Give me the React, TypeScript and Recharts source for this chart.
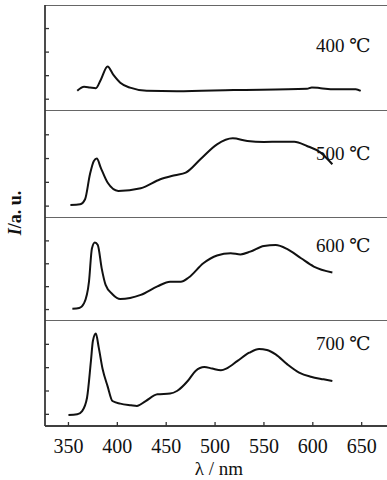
import React from 'react';
import { LineChart, Line, XAxis, YAxis, ReferenceLine } from 'recharts';

// wavelength (nm) and intensity (a.u.)
const wl400 = [359, 366, 372, 378, 383, 390, 396, 403, 413, 430, 461, 519, 594, 599, 608, 622, 644, 649];
const i400 = [0.86, 1.03, 1.0, 0.97, 1.32, 1.89, 1.53, 1.2, 0.99, 0.86, 0.84, 0.89, 0.94, 1.0, 0.97, 0.92, 0.92, 0.85];

const wl500 = [352, 362, 367, 372, 376, 379, 383, 390, 401, 424, 444, 459, 470, 485, 502, 518, 533, 550, 567, 581, 594, 608, 620];
const i500 = [0.55, 0.58, 0.79, 1.84, 2.4, 2.5, 2.12, 1.49, 1.14, 1.25, 1.63, 1.8, 1.91, 2.47, 3.1, 3.35, 3.24, 3.2, 3.21, 3.21, 3.03, 2.75, 2.26];

const wl600 = [354, 361, 366, 371, 374, 377, 380, 384, 388, 395, 403, 424, 441, 454, 465, 473, 488, 502, 516, 526, 536, 550, 562, 574, 588, 601, 620];
const i600 = [0.54, 0.57, 0.78, 1.72, 3.17, 3.43, 3.32, 2.3, 1.58, 1.17, 0.96, 1.14, 1.51, 1.72, 1.72, 1.9, 2.52, 2.86, 2.96, 2.91, 3.03, 3.28, 3.32, 3.14, 2.74, 2.38, 2.12];

const wl700 = [350, 359, 364, 369, 373, 375, 378, 381, 385, 390, 395, 403, 414, 420, 429, 441, 454, 461, 472, 480, 489, 497, 506, 512, 523, 535, 545, 553, 562, 574, 586, 598, 611, 620];
const i700 = [0.47, 0.5, 0.64, 1.21, 2.79, 3.64, 3.96, 3.36, 2.43, 1.71, 1.07, 0.96, 0.89, 0.86, 1.07, 1.36, 1.39, 1.5, 1.93, 2.36, 2.53, 2.46, 2.39, 2.47, 2.79, 3.14, 3.3, 3.26, 3.07, 2.64, 2.29, 2.11, 2.0, 1.93];

const xTicks = [350, 400, 450, 500, 550, 600, 650];
const yTicks = [0.5, 1.5, 2.5, 3.5];

const panels = [
  { label: '400 ℃', wl: wl400, vals: i400, top: 5, h: 106, labelY: 34 },
  { label: '500 ℃', wl: wl500, vals: i500, top: 111, h: 107, labelY: 142 },
  { label: '600 ℃', wl: wl600, vals: i600, top: 218, h: 103, labelY: 234 },
  { label: '700 ℃', wl: wl700, vals: i700, top: 321, h: 105, labelY: 332 },
];

const AXIS = '#333';
const FONT = '"Liberation Serif", "DejaVu Serif", serif';
const W = 391;

const Panel = ({ p, last, first }: any) => {
  const data = p.wl.map((x: number, i: number) => ({ nm: x, v: p.vals[i] }));
  const extra = last ? 55 : 0;
  return (
    <div style={{ position: 'absolute', left: 0, top: p.top, width: W, height: p.h + extra }}>
      <LineChart width={W} height={p.h + extra} data={data} margin={{ top: 0, right: 0, left: 44, bottom: 0 }}>
        <XAxis
          dataKey="nm"
          type="number"
          domain={[326, 680]}
          allowDataOverflow
          ticks={xTicks}
          hide={!last}
          height={55}
          tick={{ fontSize: 20, fill: '#111', fontFamily: FONT }}
          tickLine={{ stroke: AXIS }}
          tickSize={-4}
          tickMargin={17}
          stroke={AXIS}
          strokeWidth={1.3}
        />
        <YAxis
          type="number"
          domain={[0, 4.5]}
          ticks={yTicks}
          width={1}
          tickSize={-4}
          tickMargin={0}
          tickFormatter={() => ''}
          stroke={AXIS}
          strokeWidth={1.3}
        />
        <ReferenceLine y={0} stroke={AXIS} strokeWidth={1.3} ifOverflow="visible" />
        {first && <ReferenceLine y={4.5} stroke={AXIS} strokeWidth={1.3} ifOverflow="visible" />}
        <ReferenceLine x={326} stroke={AXIS} strokeWidth={1.3} ifOverflow="visible" />
        <Line
          type="monotone"
          dataKey="v"
          stroke="#111"
          strokeWidth={2}
          dot={false}
          isAnimationActive={false}
        />
      </LineChart>
    </div>
  );
};

export default function App() {
  return (
    <div
      style={{
        position: 'absolute',
        left: 0,
        top: 0,
        width: 387,
        height: 480,
        overflow: 'hidden',
        background: '#fff',
        fontFamily: FONT,
      }}
    >
      {panels.map((p, i) => (
        <Panel key={p.label} p={p} first={i === 0} last={i === panels.length - 1} />
      ))}
      {panels.map((p) => (
        <div
          key={p.label + 't'}
          style={{ position: 'absolute', left: 316, top: p.labelY, fontSize: 19, color: '#111', whiteSpace: 'nowrap' }}
        >
          {p.label}
        </div>
      ))}
      <div
        style={{
          position: 'absolute',
          left: 219,
          top: 469,
          transform: 'translate(-50%, -50%)',
          fontSize: 19,
          color: '#111',
          whiteSpace: 'nowrap',
        }}
      >
        λ / nm
      </div>
      <div
        style={{
          position: 'absolute',
          left: 15,
          top: 213,
          transform: 'translate(-50%, -50%) rotate(-90deg)',
          fontSize: 18,
          fontWeight: 'bold',
          color: '#111',
          whiteSpace: 'nowrap',
        }}
      >
        <i>I</i>/a. u.
      </div>
    </div>
  );
}
